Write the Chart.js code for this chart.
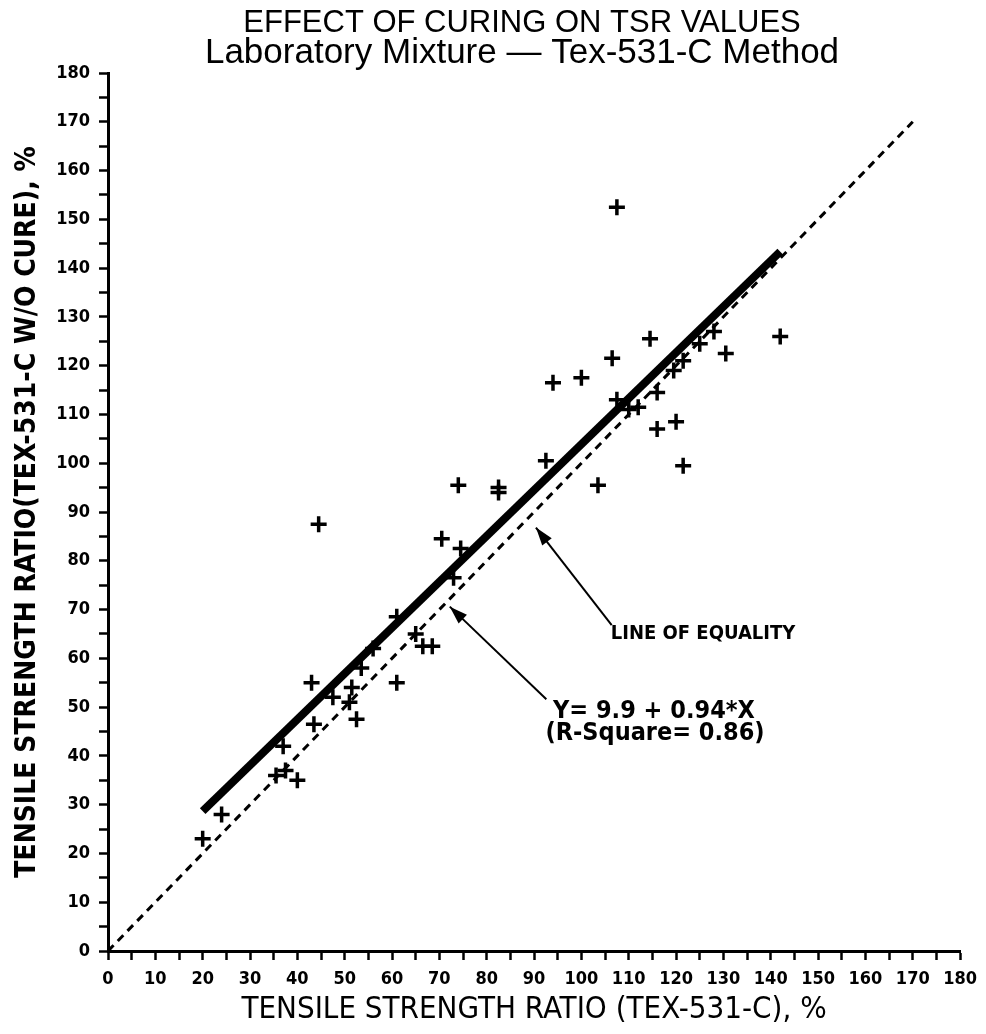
<!DOCTYPE html>
<html>
<head>
<meta charset="utf-8">
<script src="https://cdn.jsdelivr.net/npm/chart.js@4.4.1/dist/chart.umd.min.js"></script>
<style>
  body { margin: 0; background: #fff; }
  #wrap { width: 986px; height: 1034px; }
</style>
</head>
<body>
<div id="wrap"><canvas id="chart" width="986" height="1034"></canvas></div>
<script>
// measured TSR pairs (Tex-531-C cured vs. without cure)
const tsrCured = [20, 24, 35.5, 37.5, 40, 37, 43.5, 43, 47.5, 51, 52.5, 51.5, 53.5, 56, 61, 61, 65, 66.5, 68.5,
  73, 70.5, 74.5, 44.5, 74, 82.5, 82.5, 92.5, 103.5, 94, 100, 106.5, 107.5, 107.5, 110, 112, 114.5, 116, 116,
  120, 121.5, 119.5, 121.5, 125, 128, 130.5, 142];
const tsrNoCure = [23, 28, 36, 37, 35, 42, 46.5, 55, 52, 51, 47.5, 54, 58, 62, 55, 68.5, 65, 62.5, 62.5,
  76.5, 84.5, 82.5, 87.5, 95.5, 95, 94, 100.5, 95.5, 116.5, 117.5, 121.5, 113, 152.5, 111, 111.5, 125.5, 114.5, 107,
  108.5, 99.5, 119, 121, 124.5, 127, 122.5, 126];

// regression line Y = 9.9 + 0.94*X, drawn over the data range
const regX = [20, 142];
const regY = [28.7, 143.4];

// line of equality
const eqX = [0, 170];
const eqY = [0, 170];

const axisMin = 0;
const axisMax = 180;

const titleLines = ['EFFECT OF CURING ON TSR VALUES', 'Laboratory Mixture \u2014 Tex-531-C Method'];

const fontFace = '"DejaVu Sans Condensed", "Liberation Sans Narrow", "DejaVu Sans", sans-serif';
const titleFace = '"Liberation Sans", Arial, sans-serif';

const toPoints = (xs, ys) => xs.map((x, i) => ({ x: x, y: ys[i] }));

// callouts, in data units
const notes = [
  { text: 'LINE OF EQUALITY', x: 106.2, y: 65, tail: [106.4, 66.8], tip: [90.4, 86.8], size: 20 },
  { text: 'Y= 9.9 + 0.94*X', x: 94.0, y: 49, tail: [92.6, 51.6], tip: [72.2, 70.6], size: 25 },
  { text: '(R-Square= 0.86)', x: 92.4, y: 44.5, size: 25 }
];

function arrowHead(ctx, fx, fy, tx, ty, len, half) {
  const a = Math.atan2(ty - fy, tx - fx);
  ctx.beginPath();
  ctx.moveTo(tx, ty);
  ctx.lineTo(tx - len * Math.cos(a) + half * Math.sin(a), ty - len * Math.sin(a) - half * Math.cos(a));
  ctx.lineTo(tx - len * Math.cos(a) - half * Math.sin(a), ty - len * Math.sin(a) + half * Math.cos(a));
  ctx.closePath();
  ctx.fill();
}

const calloutPlugin = {
  id: 'callouts',
  afterDatasetsDraw(chart) {
    const ctx = chart.ctx;
    const xs = chart.scales.x;
    const ys = chart.scales.y;
    ctx.save();
    ctx.fillStyle = '#000';
    ctx.strokeStyle = '#000';
    notes.forEach(n => {
      if (n.tail) {
        const x1 = xs.getPixelForValue(n.tail[0]), y1 = ys.getPixelForValue(n.tail[1]);
        const x2 = xs.getPixelForValue(n.tip[0]), y2 = ys.getPixelForValue(n.tip[1]);
        ctx.lineWidth = 2;
        ctx.beginPath();
        ctx.moveTo(x1, y1);
        ctx.lineTo(x2, y2);
        ctx.stroke();
        arrowHead(ctx, x1, y1, x2, y2, 18, 6);
      }
      ctx.font = 'bold ' + n.size + 'px ' + fontFace;
      ctx.textAlign = 'left';
      ctx.textBaseline = 'middle';
      ctx.fillText(n.text, xs.getPixelForValue(n.x), ys.getPixelForValue(n.y));
    });

    // two-line heading, a little right of the canvas centre like the original
    ctx.textAlign = 'center';
    ctx.textBaseline = 'alphabetic';
    ctx.font = '31px ' + titleFace;
    ctx.fillText(titleLines[0], 522, 32);
    ctx.font = '35px ' + titleFace;
    ctx.fillText(titleLines[1], 522, 63);
    ctx.restore();
  }
};

const tickCb = v => (v % 10 === 0 ? String(v) : '');

new Chart(document.getElementById('chart'), {
  type: 'scatter',
  data: {
    datasets: [
      {
        label: 'Line of equality',
        data: toPoints(eqX, eqY),
        showLine: true,
        borderColor: '#000',
        borderWidth: 3,
        borderDash: [8, 6],
        pointRadius: 0
      },
      {
        label: 'Regression',
        data: toPoints(regX, regY),
        showLine: true,
        borderColor: '#000',
        borderWidth: 8,
        pointRadius: 0
      },
      {
        label: 'TSR',
        data: toPoints(tsrCured, tsrNoCure),
        pointStyle: 'cross',
        pointRadius: 8,
        pointBorderWidth: 3.5,
        borderColor: '#000',
        backgroundColor: '#000'
      }
    ]
  },
  options: {
    responsive: false,
    animation: false,
    layout: { padding: { left: 0, right: 24, top: 73, bottom: 0 } },
    plugins: {
      legend: { display: false },
      tooltip: { enabled: false }
    },
    scales: {
      x: {
        type: 'linear',
        min: axisMin,
        max: axisMax,
        afterFit: s => { s.height = 83; },
        border: { display: true, color: '#000', width: 3 },
        grid: { drawOnChartArea: false, drawTicks: true, tickLength: 9, tickColor: '#000', tickWidth: 2.5 },
        ticks: {
          stepSize: 5,
          autoSkip: false,
          maxRotation: 0,
          color: '#000',
          padding: 9,
          font: { family: fontFace, size: 18, weight: 'bold' },
          callback: tickCb
        },
        title: {
          display: true,
          text: 'TENSILE STRENGTH RATIO (TEX-531-C), %',
          color: '#000',
          font: { family: fontFace, size: 31, weight: 'normal', lineHeight: 1.2 },
          padding: { top: 0, bottom: 5 }
        }
      },
      y: {
        type: 'linear',
        min: axisMin,
        max: axisMax,
        afterFit: s => { s.width = 108; },
        border: { display: true, color: '#000', width: 3 },
        grid: { drawOnChartArea: false, drawTicks: true, tickLength: 9, tickColor: '#000', tickWidth: 2.5 },
        ticks: {
          stepSize: 5,
          autoSkip: false,
          color: '#000',
          padding: 9,
          font: { family: fontFace, size: 18, weight: 'bold' },
          callback: tickCb
        },
        title: {
          display: true,
          text: 'TENSILE STRENGTH RATIO(TEX-531-C W/O CURE), %',
          color: '#000',
          font: { family: fontFace, size: 28, weight: 'bold', lineHeight: 1.2 },
          padding: { top: 11, bottom: 0 }
        }
      }
    }
  },
  plugins: [calloutPlugin]
});
</script>
</body>
</html>
